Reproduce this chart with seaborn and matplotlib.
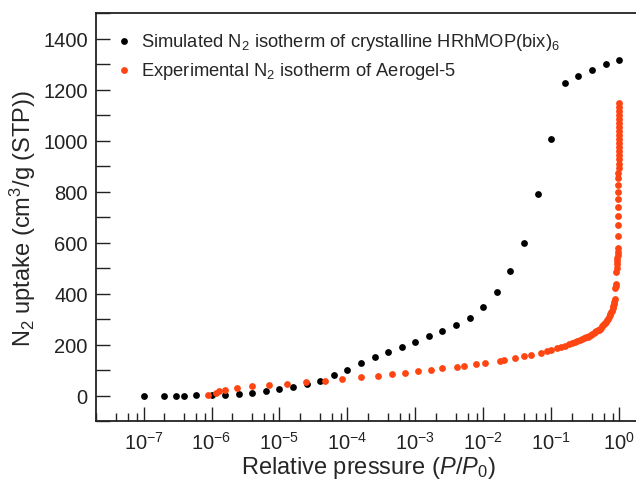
import numpy as np
import pandas as pd
import matplotlib
matplotlib.use("Agg")
import matplotlib.pyplot as plt
from matplotlib.ticker import (FixedLocator, LogLocator, MultipleLocator,
                               NullFormatter)
import seaborn as sns

# Simulated N2 isotherm (crystalline HRhMOP(bix)6)
sim_p = [1e-7, 2e-7, 3e-7, 4e-7, 6e-7,
         1e-6, 1.6e-6, 2.5e-6, 4e-6, 6.3e-6,
         1e-5, 1.6e-5, 2.5e-5, 4e-5, 6.3e-5,
         1e-4, 1.6e-4, 2.5e-4, 4e-4, 6.3e-4,
         1e-3, 1.6e-3, 2.5e-3, 4e-3, 6.3e-3,
         1e-2, 1.6e-2, 2.5e-2, 4e-2, 6.3e-2,
         0.1, 0.16, 0.25, 0.4, 0.63, 1.0]
sim_uptake = [0, 0, 1, 1, 2,
              2, 5, 8, 12, 17,
              25, 33, 45, 58, 80,
              103, 128, 151, 170, 191,
              211, 235, 256, 276, 307,
              349, 408, 491, 600, 790,
              1008, 1226, 1256, 1279, 1300, 1317]

# Experimental N2 isotherm (Aerogel-5)
exp_p = [9e-7, 1.17e-6, 1.3e-6, 1.6e-6, 2.35e-6, 4e-6, 7e-6, 1.3e-5, 2.45e-5,
         4.6e-5, 8.2e-5, 1.6e-4, 2.8e-4, 4.5e-4, 7e-4, 1.1e-3, 1.7e-3, 2.5e-3,
         4.1e-3, 5.2e-3, 7.8e-3, 1.05e-2, 1.74e-2, 2e-2, 2.9e-2, 4e-2, 5e-2,
         7e-2, 0.085,
         0.10, 0.12, 0.14, 0.16, 0.18, 0.20, 0.22, 0.24, 0.26, 0.28, 0.30, 0.32,
         0.34, 0.36, 0.38, 0.40, 0.42, 0.44, 0.46, 0.48, 0.50, 0.52, 0.54, 0.56,
         0.58, 0.60, 0.62, 0.64, 0.66, 0.68, 0.70, 0.72, 0.74, 0.76, 0.78, 0.80,
         0.82, 0.83, 0.84, 0.855,
         0.875, 0.88, 0.885, 0.905, 0.915, 0.925, 0.93, 0.935, 0.94, 0.945, 0.95,
         0.955, 0.957, 0.959, 0.961, 0.963, 0.965, 0.967, 0.969, 0.971, 0.973,
         0.975, 0.977, 0.979, 0.981, 0.983, 0.985, 0.986, 0.987, 0.988, 0.989,
         0.99, 0.991, 0.992, 0.993, 0.994, 0.995]
exp_uptake = [4, 12, 17, 24, 30, 37, 42, 48, 54,
              59, 67, 72, 79, 85, 90, 96, 102, 109,
              114, 118, 123, 128, 138, 141, 147, 155, 160,
              169, 175,
              181, 187, 192, 197, 202, 206, 210, 214, 218, 221, 225, 229,
              232, 236, 239, 243, 246, 250, 253, 257, 260, 264, 268, 272,
              276, 280, 285, 290, 296, 302, 308, 316, 322, 328, 334, 343,
              354, 362, 370, 381,
              421, 430, 440, 484, 500, 519, 528, 540, 552, 565, 578,
              628, 670, 707, 740, 772, 801, 827, 853, 873, 893,
              911, 928, 945, 961, 977, 992, 1008, 1024, 1040, 1055,
              1071, 1087, 1102, 1118, 1132, 1148]

# decade ticks shown on the x axis
x_major_ticks = [1e-7, 1e-6, 1e-5, 1e-4, 1e-3, 1e-2, 1e-1, 1e0]

sim_label = "Simulated N$_2$ isotherm of crystalline HRhMOP(bix)$_6$"
exp_label = "Experimental N$_2$ isotherm of Aerogel-5"

sim_df = pd.DataFrame({"p": sim_p, "uptake": sim_uptake})
exp_df = pd.DataFrame({"p": exp_p, "uptake": exp_uptake})

sns.set_style("ticks")
plt.rcParams["font.family"] = ["Liberation Sans", "DejaVu Sans"]
plt.rcParams["mathtext.fontset"] = "custom"
plt.rcParams["mathtext.rm"] = "Liberation Sans"
plt.rcParams["mathtext.it"] = "Liberation Sans:italic"
plt.rcParams["mathtext.default"] = "regular"
plt.rcParams["xtick.direction"] = "in"
plt.rcParams["ytick.direction"] = "in"

fig = plt.figure(figsize=(6.36, 4.81), dpi=100)
ax = fig.add_axes([0.151, 0.122, 0.855, 0.848])

sns.scatterplot(data=sim_df, x="p", y="uptake", color="black", s=24,
                linewidth=0, label=sim_label, ax=ax, zorder=3)
sns.scatterplot(data=exp_df, x="p", y="uptake", color="#FF4512", s=24,
                linewidth=0, label=exp_label, ax=ax, zorder=4)

ax.set_xscale("log")
ax.set_xlim(2e-8, 2.0)
ax.set_ylim(-100, 1500)

ax.xaxis.set_major_locator(FixedLocator(x_major_ticks))
ax.xaxis.set_minor_locator(LogLocator(base=10, subs=(2, 4, 6, 8), numticks=40))
ax.xaxis.set_minor_formatter(NullFormatter())
ax.yaxis.set_major_locator(MultipleLocator(200))
ax.yaxis.set_minor_locator(MultipleLocator(100))

ax.tick_params(axis="both", which="both", direction="in", width=1,
               labelsize=14.5, colors="#222222")
ax.tick_params(axis="x", which="major", length=10, pad=7)
ax.tick_params(axis="x", which="minor", length=6)
ax.tick_params(axis="y", which="both", length=10, pad=6)
ax.tick_params(top=False, right=False, which="both")

for sp in ax.spines.values():
    sp.set_linewidth(1.3)
    sp.set_color("#222222")

ax.set_xlabel("Relative pressure ($\\mathit{P}$/$\\mathit{P}_0$)", fontsize=17,
              labelpad=1)
ax.set_ylabel("N$_2$ uptake (cm$^3$/g (STP))", fontsize=17, labelpad=4)

ax.legend(loc="upper left", frameon=False, fontsize=13.2, markerscale=1.0,
          handletextpad=0.3, borderaxespad=0.5, labelspacing=0.45,
          handlelength=1.2, borderpad=0.45)

fig.savefig("out.png", dpi=100)
